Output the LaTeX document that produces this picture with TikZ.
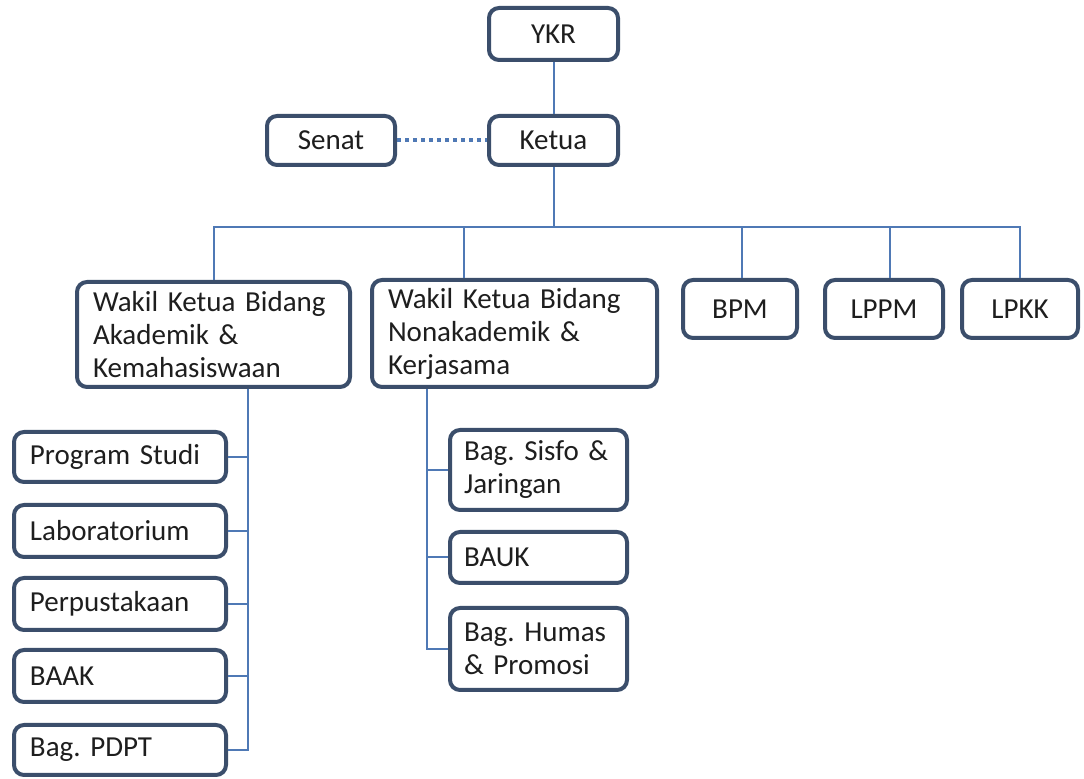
\documentclass[tikz,border=0pt]{standalone}
\usepackage{fontspec}
\setmainfont{Carlito}
\usepackage{tikz}
\usetikzlibrary{positioning, calc}
\definecolor{orgedge}{HTML}{3B4E6B}
\definecolor{orgline}{HTML}{4F79B5}
\definecolor{orgtext}{HTML}{1E1E1E}
\frenchspacing

\begin{document}
\begin{tikzpicture}[
  x=0.5pt, y=-0.5pt,
  unit/.style={
    rectangle,
    rounded corners=5pt,
    draw=orgedge,
    line width=2pt,
    fill=white,
    text=orgtext,
    inner xsep=8pt,
    inner ysep=0pt,
    font=\fontsize{14.5}{16.5}\selectfont
  },
  wide/.style={
    unit,
    align=left,
    text width=#1
  },
  link/.style={orgline, line width=1pt},
  dotlink/.style={orgline, line width=2pt, dash pattern=on 2pt off 2pt}
]
  \useasboundingbox (0,0) rectangle (1084,779);

  % Top
  \node[unit, minimum width=64.5pt, minimum height=26pt] (ykr) at (553.5,34) {YKR};
  \node[unit, minimum width=64.5pt, minimum height=24.5pt] (ketua) at (553.5,140.5) {Ketua};
  \node[unit, minimum width=64pt, minimum height=24.5pt] (senat) at (331,140.5) {Senat};

  % Second level
  \node[wide=120.5pt, minimum height=52.5pt] (wkakad) at (213.5,334.5)
    {Wakil Ketua Bidang\\Akademik \&\\Kemahasiswaan};
  \node[wide=126.5pt, minimum height=53.5pt] (wknonak) at (514.5,333.5)
    {Wakil Ketua Bidang\\Nonakademik \&\\Kerjasama};
  \node[unit, minimum width=57pt, minimum height=29pt] (bpm) at (740,309) {BPM};
  \node[unit, minimum width=59pt, minimum height=29pt] (lppm) at (884,309) {LPPM};
  \node[unit, minimum width=58pt, minimum height=29pt] (lpkk) at (1020,309) {LPKK};

  % Under Akademik
  \node[wide=90pt, minimum height=25pt] (prodi) at (120,457) {Program Studi};
  \node[wide=90pt, minimum height=26pt] (lab) at (120,531) {Laboratorium};
  \node[wide=90pt, minimum height=26pt] (pustaka) at (120,604) {Perpustakaan};
  \node[wide=90pt, minimum height=26pt] (baak) at (120,676) {BAAK};
  \node[wide=90pt, minimum height=25pt] (pdpt) at (120,750) {Bag. PDPT};

  % Under Nonakademik
  \node[wide=74.5pt, inner xsep=7pt, minimum height=40pt] (sisfo) at (538.5,470) {Bag. Sisfo \&\\Jaringan};
  \node[wide=74.5pt, inner xsep=7pt, minimum height=25.5pt] (bauk) at (538.5,557.5) {BAUK};
  \node[wide=74.5pt, inner xsep=7pt, minimum height=41pt] (humas) at (538.5,649) {Bag. Humas\\\& Promosi};

  % Helper points
  \coordinate (bus) at (553.5,227);
  \coordinate (wkakadspine) at ([xshift=17pt]wkakad.south);
  \coordinate (wknonaktop) at ([xshift=-25.5pt]wknonak.north);
  \coordinate (wknonakspine) at ([xshift=-44pt]wknonak.south);
  \coordinate (bpmtop) at ([xshift=1pt]bpm.north);
  \coordinate (lppmtop) at ([xshift=3pt]lppm.north);

  % Lines
  \draw[link] (ykr) -- (ketua);
  \draw[dotlink] (senat) -- (ketua);
  \draw[link] (ketua) -- (bus);
  \draw[link] (wkakad.north) |- (bus) -| (lpkk.north);
  \draw[link] (wknonaktop) -- (wknonaktop |- bus);
  \draw[link] (bpmtop) -- (bpmtop |- bus);
  \draw[link] (lppmtop) -- (lppmtop |- bus);

  \draw[link] (wkakadspine) |- (pdpt.east);
  \foreach \n in {prodi, lab, pustaka, baak}
    \draw[link] (\n.east) -- (\n.east -| wkakadspine);

  \draw[link] (wknonakspine) |- (humas.west);
  \foreach \n in {sisfo, bauk}
    \draw[link] (\n.west) -- (\n.west -| wknonakspine);
\end{tikzpicture}
\end{document}
